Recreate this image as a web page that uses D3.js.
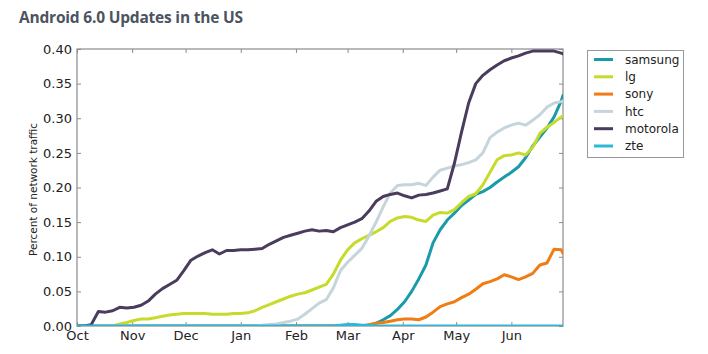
<!DOCTYPE html>
<html><head><meta charset="utf-8">
<script src="https://cdn.jsdelivr.net/npm/d3@7"></script>
<style>
html,body{margin:0;padding:0;background:#fff;}
svg{display:block;}
</style></head>
<body>
<svg id="chart" width="708" height="354"></svg>
<script>
const title = "Android 6.0 Updates in the US";
const yLabel = "Percent of network traffic";
const yTicks = [0, 0.05, 0.10, 0.15, 0.20, 0.25, 0.30, 0.35, 0.40];
const seriesNames = ["samsung", "lg", "sony", "htc", "motorola", "zte"];
const seriesColors = ["#1b9aaa", "#c6db2c", "#f07c14", "#c5d5db", "#4a3c5c", "#2bb8d9"];

const dates = [
 "2015-10-01","2015-10-05","2015-10-09","2015-10-13","2015-10-17","2015-10-21","2015-10-25","2015-10-29",
 "2015-11-02","2015-11-06","2015-11-10","2015-11-14","2015-11-18","2015-11-22","2015-11-26","2015-11-30",
 "2015-12-04","2015-12-08","2015-12-12","2015-12-16","2015-12-20","2015-12-24","2015-12-28",
 "2016-01-01","2016-01-05","2016-01-09","2016-01-13","2016-01-17","2016-01-21","2016-01-25","2016-01-29",
 "2016-02-02","2016-02-06","2016-02-10","2016-02-14","2016-02-18","2016-02-22","2016-02-26",
 "2016-03-01","2016-03-05","2016-03-09","2016-03-13","2016-03-17","2016-03-21","2016-03-25","2016-03-29",
 "2016-04-02","2016-04-06","2016-04-10","2016-04-14","2016-04-18","2016-04-22","2016-04-26","2016-04-30",
 "2016-05-04","2016-05-08","2016-05-12","2016-05-16","2016-05-20","2016-05-24","2016-05-28",
 "2016-06-01","2016-06-05","2016-06-09","2016-06-13","2016-06-17","2016-06-21","2016-06-25","2016-06-29","2016-06-30"
];

const samsung = [
 0,0,0,0,0,0,0,0, 0,0,0,0,0,0,0,0, 0,0,0,0,0,0,0, 0,0,0,0,0,0,0,0,
 0,0,0,0,0,0,0, 0,0,0,0.001,0.004,0.009,0.015,0.024,
 0.035,0.050,0.068,0.088,0.120,0.139,0.153,0.163,
 0.174,0.182,0.190,0.194,0.200,0.208,0.215,
 0.222,0.230,0.243,0.260,0.273,0.286,0.302,0.325,0.333
];
const lg = [
 0,0,0,0,0,0,0.003,0.005, 0.008,0.010,0.010,0.012,0.014,0.016,0.017,0.018,
 0.018,0.018,0.018,0.017,0.017,0.017,0.018, 0.018,0.019,0.022,0.027,0.031,0.035,0.039,0.043,
 0.046,0.048,0.052,0.056,0.060,0.075,0.095, 0.110,0.120,0.126,0.131,0.136,0.142,0.151,0.156,
 0.158,0.157,0.153,0.151,0.160,0.164,0.163,0.168,
 0.178,0.187,0.191,0.204,0.222,0.240,0.246,
 0.247,0.250,0.247,0.258,0.278,0.287,0.294,0.302,0.303
];
const sony = [
 0,0,0,0,0,0,0,0, 0,0,0,0,0,0,0,0, 0,0,0,0,0,0,0, 0,0,0,0,0,0,0,0,
 0,0,0,0,0,0,0, 0,0,0,0.002,0.004,0.005,0.007,0.009,
 0.010,0.010,0.009,0.013,0.020,0.028,0.032,0.035,
 0.041,0.046,0.053,0.061,0.064,0.068,0.074,
 0.071,0.067,0.071,0.076,0.088,0.091,0.111,0.110,0.105
];
const htc = [
 0,0,0,0,0,0,0,0, 0,0,0,0,0,0,0,0, 0,0,0,0,0,0,0, 0,0,0,0.001,0.002,0.003,0.005,0.007,
 0.010,0.017,0.025,0.033,0.038,0.055,0.080, 0.092,0.102,0.112,0.130,0.150,0.172,0.192,0.203,
 0.204,0.204,0.206,0.203,0.215,0.225,0.228,0.231,
 0.233,0.236,0.240,0.250,0.272,0.280,0.286,
 0.290,0.293,0.290,0.297,0.305,0.316,0.322,0.324,0.325
];
const motorola = [
 0,0,0.002,0.021,0.020,0.022,0.027,0.026, 0.027,0.030,0.036,0.046,0.054,0.060,0.066,0.080,
 0.095,0.101,0.106,0.110,0.104,0.109,0.109, 0.110,0.110,0.111,0.112,0.118,0.123,0.128,0.131,
 0.134,0.137,0.139,0.137,0.138,0.136,0.142, 0.146,0.150,0.155,0.166,0.180,0.187,0.190,0.192,
 0.188,0.185,0.189,0.190,0.192,0.195,0.198,0.235,
 0.280,0.322,0.350,0.362,0.370,0.377,0.383,
 0.387,0.390,0.394,0.397,0.397,0.397,0.397,0.394,0.393
];
const zte = [
 0,0,0,0,0,0,0,0, 0,0,0,0,0,0,0,0, 0,0,0,0,0,0,0, 0,0,0,0,0,0,0,0,
 0,0,0,0,0,0,0.001, 0.002,0.002,0.001,0.001,0,0,0,0,
 0,0,0,0,0,0,0,0, 0,0,0,0,0,0,0, 0,0,0,0,0,0,0,0,0
];
const seriesValues = [samsung, lg, sony, htc, motorola, zte];

const svg = d3.select("#chart");
const parse = d3.timeParse("%Y-%m-%d");
const dateObjs = dates.map(parse);

const m = {left: 77, right: 563, top: 49, bottom: 326};
const x = d3.scaleTime().domain([parse("2015-10-01"), parse("2016-06-30")]).range([m.left, m.right]);
const y = d3.scaleLinear().domain([0, 0.40]).range([m.bottom, m.top]);

svg.append("text").attr("x", 19).attr("y", 23)
  .attr("font-family", "'Open Sans', sans-serif").attr("font-weight", 700)
  .attr("font-size", 15.5).attr("fill", "#4b5460").attr("letter-spacing", -0.2).text(title);

const frameColor = "#8c8c8c";
const tickFont = "'DejaVu Sans', sans-serif";

// axes with inward ticks
const monthTicks = d3.timeMonth.range(parse("2015-10-01"), parse("2016-07-01"));
const xAxis = d3.axisBottom(x).tickValues(monthTicks).tickFormat(d3.timeFormat("%b")).tickSize(-4).tickPadding(5);
const gx = svg.append("g").attr("transform", `translate(0,${m.bottom})`).call(xAxis);
const xTop = d3.axisTop(x).tickValues(monthTicks).tickFormat("").tickSize(-4);
const gxt = svg.append("g").attr("transform", `translate(0,${m.top})`).call(xTop);
const yAxis = d3.axisLeft(y).tickValues(yTicks).tickFormat(d3.format(".2f")).tickSize(-4).tickPadding(5);
const gy = svg.append("g").attr("transform", `translate(${m.left},0)`).call(yAxis);
const yRight = d3.axisRight(y).tickValues(yTicks).tickFormat("").tickSize(-4);
const gyr = svg.append("g").attr("transform", `translate(${m.right},0)`).call(yRight);

[gx, gxt, gy, gyr].forEach(g => {
  g.select(".domain").remove();
  g.selectAll(".tick line").attr("stroke", frameColor).attr("stroke-width", 1);
  g.selectAll("text").attr("font-family", tickFont).attr("font-size", 13).attr("fill", "#222");
});
gx.selectAll("text").attr("dy", "0.71em");

svg.append("rect").attr("x", m.left).attr("y", m.top)
  .attr("width", m.right - m.left).attr("height", m.bottom - m.top)
  .attr("fill", "none").attr("stroke", frameColor).attr("stroke-width", 1.2);

svg.append("text")
  .attr("transform", `translate(37,${(m.top + m.bottom) / 2 + 2}) rotate(-90)`)
  .attr("text-anchor", "middle").attr("font-family", tickFont).attr("font-size", 10.5)
  .attr("fill", "#222").text(yLabel);

// lines
const clip = svg.append("clipPath").attr("id", "clip").append("rect")
  .attr("x", m.left).attr("y", m.top - 3).attr("width", m.right - m.left).attr("height", m.bottom - m.top + 3);
const line = d3.line().x((d, i) => x(dateObjs[i])).y(d => y(d));
const gLines = svg.append("g").attr("clip-path", "url(#clip)");
seriesValues.forEach((vals, k) => {
  gLines.append("path").datum(vals).attr("d", line)
    .attr("fill", "none").attr("stroke", seriesColors[k]).attr("stroke-width", 3)
    .attr("stroke-linejoin", "round").attr("stroke-linecap", "round");
});

// legend
const lg0 = svg.append("g");
lg0.append("rect").attr("x", 587.5).attr("y", 50.5).attr("width", 96).attr("height", 107)
  .attr("fill", "#fff").attr("stroke", "#999").attr("stroke-width", 1);
seriesNames.forEach((name, k) => {
  const yy = 59.5 + k * 17.3;
  lg0.append("line").attr("x1", 594).attr("x2", 613).attr("y1", yy).attr("y2", yy)
    .attr("stroke", seriesColors[k]).attr("stroke-width", 3);
  lg0.append("text").attr("x", 625).attr("y", yy).attr("dy", "0.35em")
    .attr("font-family", tickFont).attr("font-size", 12).attr("fill", "#222").text(name);
});
</script>
</body></html>
